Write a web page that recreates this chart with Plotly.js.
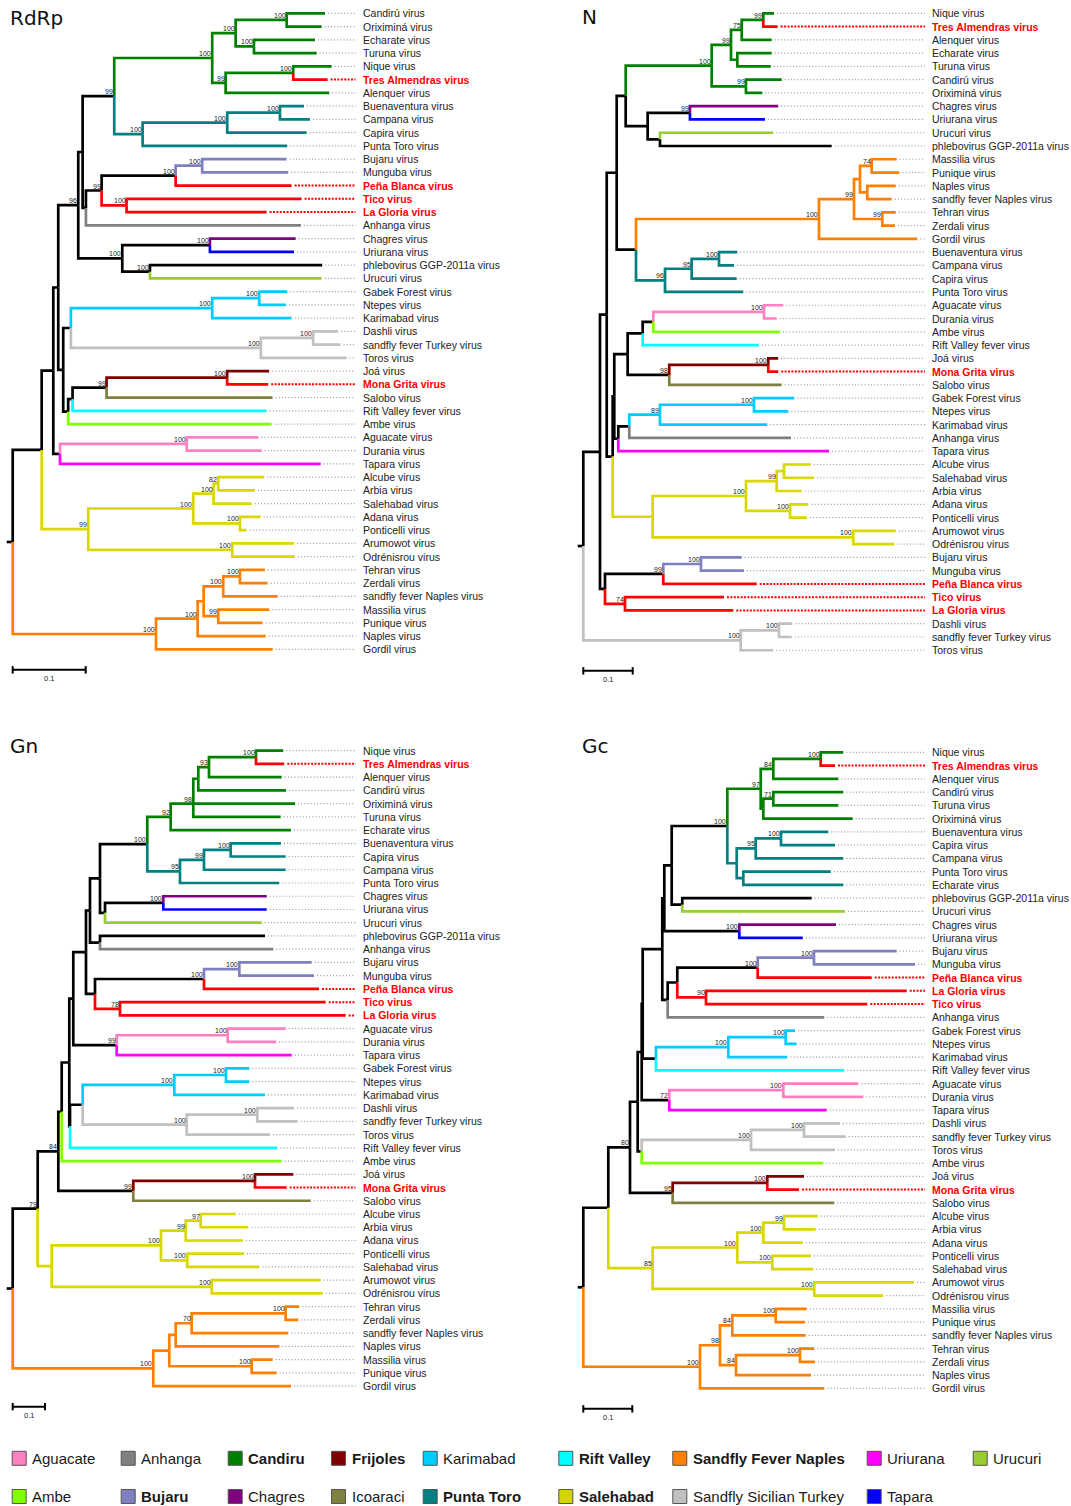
<!DOCTYPE html>
<html><head><meta charset="utf-8">
<script src="https://cdn.plot.ly/plotly-3.0.1.min.js"></script>
<style>html,body{margin:0;padding:0;background:#fff}</style>
</head><body><div id="chart" style="width:1071px;height:1506px"></div>
<script>
// ---------------- DATA ----------------
// Trees in Newick: name:branchLength(substitutions/site)#colourCode ; internal labels = bootstrap
const treeRdRp = [
  "(((((((",
  "(((Candirú virus:0.0525#g,Oriximiná virus:0.0479#g)100:0.0699#g,(Echarate virus:0.0836#g,Turuna virus:0.0859#g)100:0.0251#g)100:0.0321#g,",
  "((Nique virus:0.0526#g,Tres Almendras virus:0.0471#r)100:0.0926#g,Alenquer virus:0.1419#g)99:0.0184#g)100:0.1342#g,",
  "(((Buenaventura virus:0.0329#t,Campana virus:0.0411#t)100:0.0722#t,Capira virus:0.1088#t)100:0.1159#t,Punta Toro virus:0.1981#t)100:0.0389#t)99:0.0433#k,",
  "((((Bujaru virus:0.1156#b,Munguba virus:0.1178#b)100:0.0364#b,Peña Blanca virus:0.1589#r)100:0.1014#k,(Tico virus:0.2397#r,La Gloria virus:0.1918#r)100:0.0342#r)99:0.0215#k,Anhanga virus:0.2945#a):0.0045#k):0.0060#k,",
  "((Chagres virus:0.1174#p,Uriurana virus:0.1151#u)100:0.1201#k,(phlebovirus GGP-2011a virus:0.2360#k,Urucuri virus:0.2352#l)100:0.0379#k)100:0.0603#k)96:0.0274#k,",
  "((((Gabek Forest virus:0.0384#c,Ntepes virus:0.0366#c)100:0.0644#c,Karimabad virus:0.1088#c)100:0.1936#c,((Dashli virus:0.0342#s,sandfly fever Turkey virus:0.0375#s)100:0.0716#s,Toros virus:0.1174#s)100:0.2603#s):0.0105#k,((((Joá virus:0.0575#m,Mona Grita virus:0.0562#r)100:0.1652#m,Salobo virus:0.2274#o)99:0.0466#k,Rift Valley fever virus:0.2658#v):0.0060#k,Ambe virus:0.2786#e):0.0068#k):0.0068#k):0.0068#k,",
  "((Aguacate virus:0.0981#i,Durania virus:0.1027#i)100:0.1736#i,Tapara virus:0.3571#f):0.0092#k):0.0159#k,",
  "((((Alcube virus:0.0630#y,Arbia virus:0.0503#y)82:0.0063#y,Salehabad virus:0.0521#y)100:0.0279#y,(Adana virus:0.0284#y,Ponticelli virus:0.0092#y)100:0.0640#y)100:0.1438#y,(Arumowot virus:0.0845#y,Odrénisrou virus:0.0855#y)100:0.1973#y)99:0.0638#y):0.0397#k,",
  "(((((Tehran virus:0.0342#n,Zerdali virus:0.0379#n)100:0.0229#n,sandfly fever Naples virus:0.0745#n)100:0.0268#n,(Massilia virus:0.0699#n,Punique virus:0.0608#n)99:0.0200#n):0.0082#n,Naples virus:0.0932#n)100:0.0571#n,Gordil virus:0.1599#n)100:0.1963#n):0.0082#k;"
].join('');

const treeN = [
  "((((",
  "(((((Nique virus:0.0217#g,Tres Almendras virus:0.0291#r)99:0.0437#g,Alenquer virus:0.0607#g)75:0.0217#g,(Echarate virus:0.0696#g,Turuna virus:0.0676#g):0.0128#g)99:0.0391#g,(Candirú virus:0.0723#g,Oriximiná virus:0.0330#g)99:0.0694#g)100:0.1741#g,((Chagres virus:0.1787#p,Uriurana virus:0.1518#u)99:0.0856#k,(Urucuri virus:0.2293#l,phlebovirus GGP-2011a virus:0.3476#k):0.0249#k):0.0445#k):0.0182#k,",
  "(((((Massilia virus:0.0506#n,Punique virus:0.0559#n)74:0.0237#n,(Naples virus:0.0575#n,sandfly fever Naples virus:0.0494#n):0.0148#n):0.0121#n,(Tehran virus:0.0271#n,Zerdali virus:0.0257#n)99:0.0573#n)99:0.0709#n,Gordil virus:0.1990#n)100:0.3704#n,(((Buenaventura virus:0.0370#t,Campana virus:0.0304#t)100:0.0553#t,Capira virus:0.0911#t)95:0.0540#t,Punta Toro virus:0.1585#t)96:0.0587#t):0.0391#k",
  "):0.0202#k,",
  "((",
  "((((Aguacate virus:0.0391#i,Durania virus:0.0257#i)100:0.2241#i,Ambe virus:0.2565#e):0.0215#k,Rift Valley fever virus:0.2354#v):0.0304#k,((Joá virus:0.0202#m,Mona Grita virus:0.0202#r)100:0.2004#m,Salobo virus:0.2275#o)98:0.0842#k):0.0271#k,",
  "((((Gabek Forest virus:0.0816#c,Ntepes virus:0.0694#c)100:0.1903#c,Karimabad virus:0.2172#c)89:0.0621#c,Anhanga virus:0.3273#a):0.0223#k,Tapara virus:0.4265#f):0.0081#k",
  "):0.0032#k,",
  "((((Alcube virus:0.0540#y,Salehabad virus:0.0607#y):0.0148#y,Arbia virus:0.0506#y)99:0.0621#y,(Adana virus:0.0370#y,Ponticelli virus:0.0338#y)100:0.0891#y)100:0.1889#y,(Arumowot virus:0.0858#y,Odrénisrou virus:0.0830#y)100:0.4061#y):0.0810#y",
  "):0.0121#k",
  "):0.0136#k,",
  "(((Bujaru virus:0.0824#b,Munguba virus:0.0870#b)100:0.0763#b,Peña Blanca virus:0.1891#r)99:0.1180#k,(Tico virus:0.2004#r,La Gloria virus:0.2192#r)74:0.0405#r):0.0101#k",
  "):0.0338#k,",
  "((Dashli virus:0.0269#s,sandfly fever Turkey virus:0.0257#s)100:0.0775#s,Toros virus:0.0660#s)100:0.3186#s",
  "):0.0113#k;"
].join('');

const treeGn = [
  "(((((((((",
  "((((((Nique virus:0.0845#g,Tres Almendras virus:0.0876#r)100:0.1455#g,Alenquer virus:0.2251#g)93:0.0331#g,Candirú virus:0.2715#g):0.0155#g,Oriximiná virus:0.3149#g,Turuna virus:0.2706#g)98:0.0700#g,Echarate virus:0.3724#g)92:0.0724#g,(((Buenaventura virus:0.1557#t,Capira virus:0.1703#t)100:0.0827#t,Campana virus:0.2529#t)99:0.0743#t,Punta Toro virus:0.3074#t)95:0.1012#t)100:0.1464#k,((Chagres virus:0.3201#p,Uriurana virus:0.3201#u)100:0.1805#k,Urucuri virus:0.4851#l):0.0155#k",
  "):0.0310#k,(phlebovirus GGP-2011a virus:0.5108#k,Anhanga virus:0.5365#a):0.0310#k",
  "):0.0124#k,(((Bujaru virus:0.2241#b,Munguba virus:0.2313#b)100:0.1093#b,Peña Blanca virus:0.3560#r)100:0.3375#k,(Tico virus:0.6368#r,La Gloria virus:0.6988#r)78:0.0774#r):0.0279#k",
  "):0.0393#k,((Aguacate virus:0.1796#i,Durania virus:0.1495#i)100:0.3437#i,Tapara virus:0.5418#f)99:0.1344#k",
  "):0.0124#k,((((Gabek Forest virus:0.0721#c,Ntepes virus:0.0721#c)100:0.1601#c,Karimabad virus:0.2808#c)100:0.2836#c,((Dashli virus:0.1136#s,sandfly fever Turkey virus:0.1251#s)100:0.2186#s,Toros virus:0.2579#s)100:0.3220#s):0.0393#k,Rift Valley fever virus:0.6418#v):0.0022#k",
  "):0.0235#k,Ambe virus:0.6811#e",
  "):0.0105#k,((Joá virus:0.1186#m,Mona Grita virus:0.0981#r)100:0.3768#m,Salobo virus:0.5492#o)99:0.2322#k",
  ")84:0.0638#k,((((Alcube virus:0.1084#y,Arbia virus:0.1474#y)97:0.0464#y,Adana virus:0.1765#y)99:0.0765#y,(Ponticelli virus:0.1755#y,Salehabad virus:0.2229#y)100:0.0814#y)100:0.3384#y,(Arumowot virus:0.3375#y,Odrénisrou virus:0.3437#y)100:0.4954#y):0.0433#y",
  ")79:0.0774#k,(((((Tehran virus:0.0421#n,Zerdali virus:0.0390#n)100:0.2910#n,sandfly fever Naples virus:0.2991#n)70:0.0495#n,Naples virus:0.3207#n):0.0198#n,(Massilia virus:0.0650#n,Punique virus:0.0774#n)100:0.2551#n):0.0495#n,Gordil virus:0.4263#n)100:0.4353#n",
  "):0.0186#k;"
].join('');

const treeGc = [
  "((((((((",
  "(((((Nique virus:0.0461#g,Tres Almendras virus:0.0292#r)100:0.0967#g,Alenquer virus:0.1327#g)84:0.0257#g,((Candirú virus:0.1429#g,Turuna virus:0.1327#g)71:0.0204#g,Oriximiná virus:0.1824#g):0.0053#g)97:0.0682#g,(((Buenaventura virus:0.0965#t,Capira virus:0.1102#t)100:0.0516#t,Campana virus:0.1788#t)95:0.0388#t,(Punta Toro virus:0.1784#t,Echarate virus:0.2041#t):0.0135#t):0.0192#t)100:0.1135#k,(phlebovirus GGP-2011a virus:0.2641#k,Urucuri virus:0.3320#l):0.0216#k):0.0151#k,",
  "(Chagres virus:0.1973#p,Uriurana virus:0.1294#u)100:0.1531#k):0.0041#k,",
  "((((Bujaru virus:0.1688#b,Munguba virus:0.2061#b)100:0.1149#b,Peña Blanca virus:0.2327#r)100:0.1641#k,(La Gloria virus:0.4096#r,Tico virus:0.3292#r)90:0.0586#r):0.0196#k,Anhanga virus:0.3196#a):0.0110#k):0.0400#k,",
  "(((Gabek Forest virus:0.0190#c,Ntepes virus:0.0224#c)100:0.1171#c,Karimabad virus:0.1204#c)100:0.1476#c,Rift Valley fever virus:0.3843#v):0.0271#k):0.0020#k,",
  "((Aguacate virus:0.1531#i,Durania virus:0.1633#i)100:0.2327#i,Tapara virus:0.3212#f)72:0.0563#k):0.0082#k,",
  "(((Dashli virus:0.0735#s,sandfly fever Turkey virus:0.0851#s)100:0.1082#s,Toros virus:0.1714#s)100:0.2231#s,Ambe virus:0.3706#e):0.0082#k):0.0157#k,",
  "((Joá virus:0.0749#m,Mona Grita virus:0.0647#r)100:0.1931#m,Salobo virus:0.3298#o)95:0.0871#k)80:0.0443#k,",
  "((((Alcube virus:0.0688#y,Arbia virus:0.0647#y)99:0.0422#y,Adana virus:0.0804#y)100:0.0531#y,(Ponticelli virus:0.0790#y,Salehabad virus:0.0837#y)100:0.0714#y)100:0.1727#y,(Arumowot virus:0.2035#y,Odrénisrou virus:0.1408#y)100:0.3298#y)85:0.0906#y):0.0510#k,",
  "((((Massilia virus:0.0633#n,Punique virus:0.0598#n)100:0.0886#n,sandfly fever Naples virus:0.1498#n)84:0.0251#n,((Tehran virus:0.0292#n,Zerdali virus:0.0306#n)100:0.1306#n,Naples virus:0.1531#n)84:0.0327#n)98:0.0408#n,Gordil virus:0.2537#n)100:0.2382#n):0.0114#k;"
].join('');

const panelTitles = ['RdRp', 'N', 'Gn', 'Gc'];
const scaleBarValue = 0.1;
const scaleBarLabel = '0.1';

const branchColors = {
  k: '#000000', g: '#008000', t: '#008080', b: '#8080c0', r: '#ff0000', a: '#808080',
  p: '#800080', u: '#0000ff', l: '#99cc33', c: '#00ccff', s: '#c0c0c0', m: '#800000',
  o: '#808040', v: '#00ffff', e: '#80ff00', i: '#ff80c0', f: '#ff00ff', y: '#d8d800', n: '#ff8000'
};

const legendNames  = ['Aguacate', 'Ambe', 'Anhanga', 'Bujaru', 'Candiru', 'Chagres', 'Frijoles', 'Icoaraci',
                      'Karimabad', 'Punta Toro', 'Rift Valley', 'Salehabad', 'Sandfly Fever Naples',
                      'Sandfly Sicilian Turkey', 'Uriurana', 'Tapara', 'Urucuri'];
const legendColors = ['#ff80c0', '#80ff00', '#808080', '#8080c0', '#008000', '#800080', '#800000', '#808040',
                      '#00ccff', '#008080', '#00ffff', '#d4d400', '#ff8000', '#c0c0c0', '#ff00ff', '#0000ff', '#99cc33'];
const legendBold   = [false, false, false, true, true, false, true, false,
                      false, true, true, true, true, false, false, false, false];

// ---------------- LAYOUT CONFIG (positions in px) ----------------
const W = 1071, H = 1506;
const PANELS = [
  {tree: treeRdRp, x0: 0,   x1: 535,  y0: 0,   y1: 700,  rootPx: 12.7,  scalePx: 73,   leaf0: 13.3,  step: 13.25, labelPx: 362.5, dotEnd: 355.5, titleX: 10,  titleY: 18},
  {tree: treeN,    x0: 575, x1: 1071, y0: 0,   y1: 700,  rootPx: 583.3, scalePx: 49.4, leaf0: 13.3,  step: 13.27, labelPx: 932,   dotEnd: 925,   titleX: 582, titleY: 17},
  {tree: treeGn,   x0: 0,   x1: 535,  y0: 730, y1: 1432, rootPx: 12.7,  scalePx: 32.3, leaf0: 750.6, step: 13.24, labelPx: 362.5, dotEnd: 355.5, titleX: 10,  titleY: 746},
  {tree: treeGc,   x0: 575, x1: 1071, y0: 730, y1: 1432, rootPx: 583.3, scalePx: 49,   leaf0: 752.3, step: 13.25, labelPx: 932,   dotEnd: 925,   titleX: 582, titleY: 746}
];
const legendCols = [11.7, 120.7, 227.7, 331, 422.7, 558.3, 672.3, 866.7, 972.7];
const legendRows = [1458.3, 1496.5];

const LABEL_FONT = 'Liberation Sans, Arial, Helvetica, sans-serif';

// ---------------- HELPERS ----------------
function parseNewick(str) {
  const s = str.trim();
  let i = 0;
  function node() {
    const n = {children: [], label: '', len: 0, color: 'k'};
    if (s[i] === '(') {
      i++;
      n.children.push(node());
      while (s[i] === ',') { i++; n.children.push(node()); }
      i++; // ')'
    }
    let lab = '';
    while (i < s.length && ':,();#'.indexOf(s[i]) < 0) lab += s[i++];
    n.label = lab.trim();
    if (s[i] === ':') {
      i++;
      let num = '';
      while (i < s.length && ',();#'.indexOf(s[i]) < 0) num += s[i++];
      n.len = parseFloat(num);
    }
    if (s[i] === '#') { i++; n.color = s[i++]; }
    return n;
  }
  return node();
}

function placeTree(root) {
  const leaves = [], internals = [];
  (function walk(n, x) {
    n.x = x;
    if (!n.children.length) { n.y = leaves.length; leaves.push(n); return; }
    n.children.forEach(c => walk(c, x + c.len));
    const k = n.children.length;
    n.y = (n.children[Math.floor((k - 1) / 2)].y + n.children[Math.ceil((k - 1) / 2)].y) / 2;
    internals.push(n);
  })(root, 0);
  return {leaves, internals};
}

// ---------------- BUILD ----------------
const traces = [];
const annotations = [];
const layout = {
  width: W, height: H, margin: {l: 0, r: 0, t: 0, b: 0},
  paper_bgcolor: '#ffffff', plot_bgcolor: 'rgba(0,0,0,0)',
  showlegend: false, hovermode: false
};

PANELS.forEach((P, k) => {
  const sfx = k === 0 ? '' : String(k + 1);
  const xref = 'x' + sfx, yref = 'y' + sfx;
  const ux = scaleBarValue / P.scalePx;
  const root = parseNewick(P.tree);
  const {leaves, internals} = placeTree(root);
  const nL = leaves.length;

  layout['xaxis' + sfx] = {
    domain: [P.x0 / W, P.x1 / W], range: [(P.x0 - P.rootPx) * ux, (P.x1 - P.rootPx) * ux],
    visible: false, fixedrange: true, anchor: yref
  };
  layout['yaxis' + sfx] = {
    domain: [1 - P.y1 / H, 1 - P.y0 / H],
    range: [(P.y1 - P.leaf0) / P.step, (P.y0 - P.leaf0) / P.step],
    visible: false, fixedrange: true, anchor: xref
  };

  // branches grouped by colour
  const groups = {};
  const add = (col, xs, ys) => {
    if (!groups[col]) groups[col] = {x: [], y: []};
    groups[col].x.push(...xs, null);
    groups[col].y.push(...ys, null);
  };
  (function walk(n) {
    n.children.forEach(c => {
      add(c.color, [n.x, n.x, c.x], [n.y, c.y, c.y]);
      walk(c);
    });
  })(root);
  add(root.color, [-root.len, 0], [root.y, root.y]);
  Object.keys(groups).sort((a, b) => (a === 'k' ? -1 : b === 'k' ? 1 : 0)).forEach(col => {
    traces.push({
      type: 'scatter', mode: 'lines', xaxis: xref, yaxis: yref,
      x: groups[col].x, y: groups[col].y,
      line: {color: branchColors[col], width: 2.7, simplify: false},
      hoverinfo: 'skip'
    });
  });

  // leader dots
  const gap = 3 * ux, xEnd = (P.dotEnd - P.rootPx) * ux, xLab = (P.labelPx - P.rootPx) * ux;
  const grey = {x: [], y: []}, red = {x: [], y: []};
  leaves.forEach(lf => {
    const tgt = lf.color === 'r' ? red : grey;
    tgt.x.push(lf.x + gap, xEnd, null);
    tgt.y.push(lf.y, lf.y, null);
    const isRed = lf.color === 'r';
    annotations.push({
      xref, yref, x: xLab, y: lf.y, xanchor: 'left', yanchor: 'middle',
      text: isRed ? '<b>' + lf.label + '</b>' : lf.label, showarrow: false,
      borderpad: 0, borderwidth: 0,
      font: {family: LABEL_FONT, size: 10.5, color: isRed ? '#ff0000' : '#222222'}
    });
  });
  traces.push({type: 'scatter', mode: 'lines', xaxis: xref, yaxis: yref, x: grey.x, y: grey.y,
    line: {color: '#9a9a9a', width: 1.2, dash: '1px,2.2px'}, hoverinfo: 'skip'});
  traces.push({type: 'scatter', mode: 'lines', xaxis: xref, yaxis: yref, x: red.x, y: red.y,
    line: {color: '#ff0000', width: 2, dash: '2px,1.4px'}, hoverinfo: 'skip'});

  // bootstrap values
  internals.forEach(n => {
    if (!n.label) return;
    annotations.push({
      xref, yref, x: n.x, y: n.y, xanchor: 'right', yanchor: 'bottom',
      xshift: -1, yshift: 1, text: n.label, showarrow: false, borderpad: 0, borderwidth: 0,
      font: {family: LABEL_FONT, size: 7, color: '#222222'}
    });
  });

  // scale bar
  const yb = nL - 1 + 1.55, cap = 0.28;
  traces.push({
    type: 'scatter', mode: 'lines', xaxis: xref, yaxis: yref,
    x: [0, scaleBarValue, null, 0, 0, null, scaleBarValue, scaleBarValue],
    y: [yb, yb, null, yb - cap, yb + cap, null, yb - cap, yb + cap],
    line: {color: '#000000', width: 2}, hoverinfo: 'skip'
  });
  annotations.push({
    xref, yref, x: scaleBarValue / 2, y: yb + 0.66, xanchor: 'center', yanchor: 'middle',
    text: scaleBarLabel, showarrow: false, borderpad: 0, borderwidth: 0,
    font: {family: LABEL_FONT, size: 7.5, color: '#222222'}
  });

  // title
  annotations.push({
    xref: 'paper', yref: 'paper', x: P.titleX / W, y: 1 - P.titleY / H, xanchor: 'left', yanchor: 'middle',
    text: panelTitles[k], showarrow: false, borderpad: 0, borderwidth: 0,
    font: {family: 'DejaVu Sans, Verdana, sans-serif', size: 20, color: '#111111'}
  });
});

// legend on an overlay pixel axis
layout.xaxis5 = {domain: [0, 1], range: [0, W], visible: false, fixedrange: true, anchor: 'y5'};
layout.yaxis5 = {domain: [0, 1], range: [H, 0], visible: false, fixedrange: true, anchor: 'x5'};
const lx = [], ly = [];
legendNames.forEach((name, i) => {
  const cx = legendCols[Math.floor(i / 2)], cy = legendRows[i % 2];
  lx.push(cx + 7.5); ly.push(cy);
  annotations.push({
    xref: 'x5', yref: 'y5', x: cx + 20.5, y: cy, xanchor: 'left', yanchor: 'middle',
    text: legendBold[i] ? '<b>' + name + '</b>' : name, showarrow: false, borderpad: 0, borderwidth: 0,
    font: {family: LABEL_FONT, size: 15, color: '#1a1a1a'}
  });
});
traces.push({
  type: 'scatter', mode: 'markers', xaxis: 'x5', yaxis: 'y5', x: lx, y: ly,
  marker: {symbol: 'square', size: 14, color: legendColors, line: {color: '#555555', width: 1}},
  hoverinfo: 'skip'
});

layout.annotations = annotations;
Plotly.newPlot('chart', traces, layout, {staticPlot: true, displayModeBar: false});
</script></body></html>
